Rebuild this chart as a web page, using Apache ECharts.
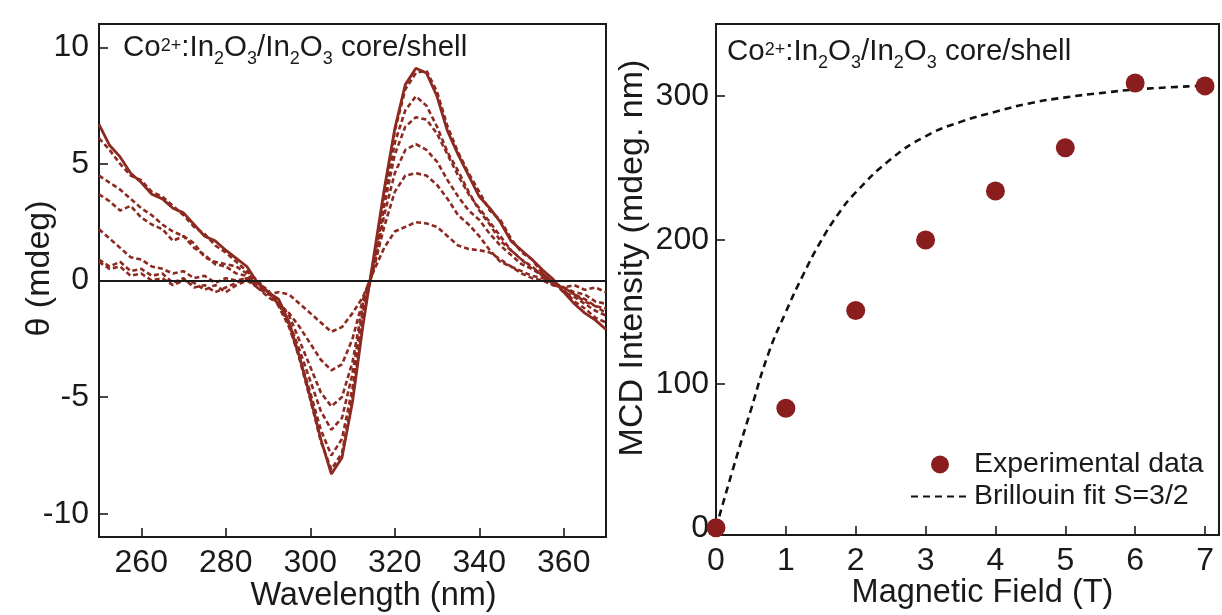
<!DOCTYPE html>
<html>
<head>
<meta charset="utf-8">
<script src="https://cdn.jsdelivr.net/npm/echarts@6/dist/echarts.min.js"></script>
<style>
html,body{margin:0;padding:0;background:#fff;}
#chart{width:1222px;height:615px;}
</style>
</head>
<body>
<div id="chart"></div>
<script>
// ---------- Left panel: MCD spectra (theta, mdeg) vs wavelength (nm) ----------
const wavelength = [250,252.5,255,257.5,260,262.5,265,267.5,270,272.5,275,277.5,280,282.5,285,287.5,290,292.5,295,297.5,300,302.5,305,307.5,310,312.5,315,317.5,320,322.5,325,327.5,330,332.5,335,337.5,340,342.5,345,347.5,350,352.5,355,357.5,360,362.5,365,367.5,370];
const theta1T = [0.8,0.5,0.6,0.2,0.3,0.0,0.1,-0.2,0.0,-0.1,-0.4,-0.2,-0.5,-0.2,0.0,-0.3,-0.6,-0.5,-0.6,-1.0,-1.4,-1.8,-2.2,-2.0,-1.4,-0.7,0.4,1.4,2.1,2.3,2.5,2.45,2.3,1.9,1.5,1.35,1.3,1.2,0.9,0.6,0.3,0.1,0.0,-0.2,-0.3,-0.2,-0.4,-0.3,-0.5];
const theta2T = [0.9,0.6,0.8,0.4,0.5,0.2,0.3,-0.1,0.1,-0.3,-0.2,-0.5,-0.3,-0.1,0.1,-0.3,-0.7,-1.0,-1.4,-2.0,-2.7,-3.4,-3.85,-3.6,-2.5,-0.8,0.5,2.3,3.8,4.5,4.6,4.5,4.1,3.5,2.8,2.4,1.9,1.3,0.8,0.6,0.4,0.2,0.1,-0.1,-0.3,-0.5,-0.6,-0.9,-1.0];
const theta3T = [2.2,1.8,1.4,1.0,0.9,0.6,0.5,0.3,0.4,0.1,0.2,-0.1,0.1,0.0,0.1,-0.2,-0.5,-0.9,-1.5,-2.6,-3.7,-4.8,-5.4,-5.0,-3.5,-1.0,0.5,2.8,4.6,5.6,5.85,5.6,5.1,4.3,3.6,3.0,2.6,2.0,1.5,1.1,0.7,0.5,0.2,-0.1,-0.3,-0.6,-0.8,-1.1,-1.2];
const theta4T = [3.7,3.4,3.0,3.2,2.7,2.4,2.2,1.7,1.9,1.4,1.1,0.7,0.6,0.3,0.2,-0.1,-0.5,-1.0,-1.8,-3.0,-4.3,-5.6,-6.4,-5.9,-4.0,-1.2,0.6,3.2,5.4,6.6,7.0,6.9,6.3,5.4,4.5,3.7,3.1,2.5,1.9,1.3,0.9,0.5,0.3,-0.1,-0.5,-0.7,-1.0,-1.3,-1.5];
const theta5T = [4.5,4.2,3.9,3.5,3.1,2.8,2.4,2.1,1.9,1.6,1.0,0.8,0.7,0.6,0.3,-0.1,-0.4,-1.1,-2.0,-3.3,-4.8,-6.4,-7.5,-6.8,-4.6,-1.4,0.6,3.4,5.9,7.3,7.9,7.5,6.6,5.5,4.7,3.8,3.0,2.4,1.7,1.3,0.9,0.6,0.2,-0.2,-0.3,-0.6,-0.9,-1.1,-1.4];
const theta6T = [6.1,5.6,5.0,4.5,4.3,3.8,3.6,3.2,2.8,2.3,2.0,1.5,1.2,0.8,0.4,0.0,-0.5,-1.0,-1.9,-3.4,-5.1,-6.9,-8.1,-7.4,-5.0,-1.6,0.8,3.7,6.4,8.2,8.9,9.0,8.1,6.6,5.5,4.6,3.8,3.0,2.6,1.8,1.2,0.9,0.3,-0.1,-0.4,-0.9,-1.2,-1.6,-1.8];
const theta7T = [6.7,5.8,5.3,4.6,4.2,3.7,3.5,3.1,2.9,2.4,1.9,1.7,1.3,0.95,0.6,-0.1,-0.5,-0.8,-1.8,-3.3,-5.0,-6.8,-8.3,-7.6,-5.2,-1.9,1.0,3.9,6.5,8.4,9.1,8.9,7.9,6.4,5.4,4.5,3.6,3.1,2.5,1.7,1.3,0.9,0.45,0.05,-0.5,-1.0,-1.4,-1.7,-2.1];
const wavelengthTicks = [260,280,300,320,340,360];
const thetaTicks = [-10,-5,0,5,10];

// ---------- Right panel: MCD intensity vs magnetic field ----------
const fieldT = [0,1,2,3,4,5,6,7];
const mcdExperimental = [0,83,151,200,234,264,309,307];
const fitField = [0,0.25,0.5,0.75,1,1.25,1.5,1.75,2,2.5,3,3.5,4,4.5,5,5.5,6,6.5,7,7.2];
const fitMCD = [0,42,82,121,150,176,199,218,233,256,272,282,289,295,299,302,304.5,306,307.2,307.6];
const fieldTicks = [0,1,2,3,4,5,6,7];
const mcdTicks = [0,100,200,300];

const annotationText = '{n|Co}{sup|2+}{n|:In}{sub|2}{n|O}{sub|3}{n|/In}{sub|2}{n|O}{sub|3}{n| core/shell}';
const legendNames = ['Experimental data', 'Brillouin fit S=3/2'];

const FONT = '"Liberation Sans", Arial, Helvetica, sans-serif';
const INK = '#1a1a1a';
const CURVE = '#8c2a22';
const DOT = '#8a1e1e';

function pairs(xs, ys) { return xs.map((x, i) => [x, ys[i]]); }

function axisStyle(ticks, fontSize, margin) {
  return {
    nameMoveOverlap: false,
    axisLine: { show: true, onZero: false, lineStyle: { color: INK, width: 2 } },
    axisTick: { show: true, inside: true, length: 9, customValues: ticks, lineStyle: { color: INK, width: 1.6 } },
    axisLabel: { customValues: ticks, fontSize: fontSize, color: INK, margin: margin, fontFamily: FONT },
    splitLine: { show: false }
  };
}

const dashedCurves = [theta1T, theta2T, theta3T, theta4T, theta5T, theta6T];

const series = dashedCurves.map((arr, i) => ({
  name: 'B' + (i + 1),
  type: 'line',
  xAxisIndex: 0, yAxisIndex: 0,
  data: pairs(wavelength, arr),
  symbol: 'none',
  lineStyle: { color: CURVE, width: 2.6, type: [5, 3] },
  z: 3
}));
series.push({
  name: 'B7',
  type: 'line',
  xAxisIndex: 0, yAxisIndex: 0,
  data: pairs(wavelength, theta7T),
  symbol: 'none',
  lineStyle: { color: CURVE, width: 2.8 },
  z: 4,
  markLine: {
    silent: true, symbol: 'none', label: { show: false },
    lineStyle: { color: INK, width: 2, type: 'solid' },
    data: [{ yAxis: 0 }]
  }
});
series.push({
  name: legendNames[1],
  type: 'line',
  xAxisIndex: 1, yAxisIndex: 1,
  data: pairs(fitField, fitMCD),
  symbol: 'none',
  smooth: true,
  lineStyle: { color: '#111', width: 2.6, type: [7, 5] },
  itemStyle: { color: '#111' },
  z: 3
});
series.push({
  name: legendNames[0],
  type: 'scatter',
  xAxisIndex: 1, yAxisIndex: 1,
  data: pairs(fieldT, mcdExperimental),
  symbol: 'circle',
  symbolSize: 19,
  itemStyle: { color: DOT, opacity: 1 },
  z: 4
});

const richStyles = {
  n: { fontSize: 29.5, fontFamily: FONT, lineHeight: 40 },
  sup: { fontSize: 18, fontFamily: FONT, padding: [0, 0, 4, 0] },
  sub: { fontSize: 18, fontFamily: FONT, verticalAlign: 'bottom' }
};

const option = {
  backgroundColor: '#ffffff',
  animation: false,
  grid: [
    { left: 99, top: 24, width: 507, height: 513, show: true, borderColor: INK, borderWidth: 2, backgroundColor: 'transparent', containLabel: false, outerBoundsMode: 'none' },
    { left: 716, top: 24, width: 503, height: 511, show: true, borderColor: INK, borderWidth: 2, backgroundColor: 'transparent', containLabel: false, outerBoundsMode: 'none' }
  ],
  xAxis: [
    Object.assign({
      type: 'value', gridIndex: 0, min: 250, max: 370,
      name: 'Wavelength (nm)', nameLocation: 'middle', nameGap: 43,
      nameTextStyle: { fontSize: 32.5, color: INK, fontFamily: FONT, padding: [0, 0, 0, 42] }
    }, axisStyle(wavelengthTicks, 32, 10)),
    Object.assign({
      type: 'value', gridIndex: 1, min: 0, max: 7.2,
      name: 'Magnetic Field (T)', nameLocation: 'middle', nameGap: 42,
      nameTextStyle: { fontSize: 32.5, color: INK, fontFamily: FONT, padding: [0, 0, 0, 30] }
    }, axisStyle(fieldTicks, 32, 10))
  ],
  yAxis: [
    Object.assign({
      type: 'value', gridIndex: 0, min: -11, max: 11,
      name: 'θ (mdeg)', nameLocation: 'middle', nameGap: 42,
      nameTextStyle: { fontSize: 34, color: INK, fontFamily: FONT, padding: [0, 0, 0, 24] }
    }, axisStyle(thetaTicks, 32, 10)),
    Object.assign({
      type: 'value', gridIndex: 1, min: -5, max: 350,
      name: 'MCD Intensity (mdeg. nm)', nameLocation: 'middle', nameGap: 66,
      nameTextStyle: { fontSize: 34, color: INK, fontFamily: FONT, padding: [0, 0, 0, 43] }
    }, axisStyle(mcdTicks, 32, 7))
  ],
  legend: {
    data: [
      { name: legendNames[0] },
      { name: legendNames[1], itemStyle: { color: 'rgba(0,0,0,0)', borderWidth: 0, opacity: 0 } }
    ],
    orient: 'vertical',
    left: 905, top: 445,
    itemWidth: 58, itemHeight: 18, itemGap: 3,
    textStyle: { fontSize: 28.5, color: INK, fontFamily: FONT }
  },
  graphic: [
    { type: 'text', x: 123, y: 28.3, z: 10,
      style: { text: annotationText, fill: INK, font: '29.5px ' + FONT, align: 'left', verticalAlign: 'top', rich: richStyles } },
    { type: 'text', x: 727, y: 31.7, z: 10,
      style: { text: annotationText, fill: INK, font: '29.5px ' + FONT, align: 'left', verticalAlign: 'top', rich: richStyles } }
  ],
  series: series
};

const chart = echarts.init(document.getElementById('chart'), null, { renderer: 'canvas' });
chart.setOption(option);
</script>
</body>
</html>
